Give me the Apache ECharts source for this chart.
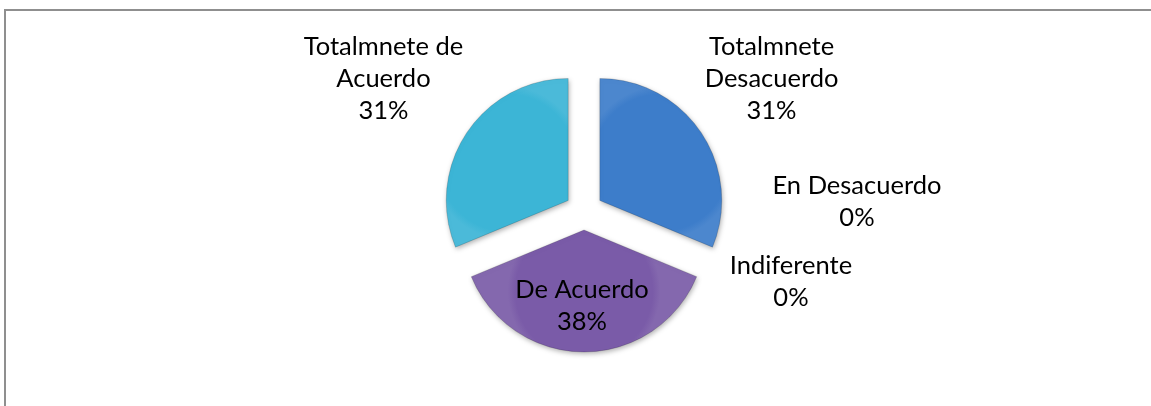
<!DOCTYPE html>
<html>
<head>
<meta charset="utf-8">
<script src="https://cdn.jsdelivr.net/npm/echarts@6/dist/echarts.min.js"></script>
<style>
  html, body { margin: 0; padding: 0; background: #fff; overflow: hidden; }
  #frame {
    position: absolute; left: 4px; top: 9px; width: 1160px; height: 420px;
    border: 2px solid #8f8f8f; box-sizing: border-box;
  }
  #chart { position: absolute; left: 0; top: 0; width: 1151px; height: 406px; }
</style>
</head>
<body>
<div id="frame"></div>
<div id="chart"></div>
<script>
var categories = ['Totalmnete\nDesacuerdo', 'En Desacuerdo', 'Indiferente', 'De Acuerdo', 'Totalmnete de\nAcuerdo'];
var counts = [5, 0, 0, 6, 5];
var sliceColors = ['#3d7dca', '#c0504d', '#9bbb59', '#7a5ba8', '#3cb5d6'];

// nudges from the default label spot, to get Excel's "best fit" placement
var labelShift = [[57, -48], [146, -60], [80, 20], [-2, 12], [-70, -48]];

function slice(i) {
  var inside = i === 3;
  return {
    name: categories[i],
    value: counts[i],
    selected: counts[i] > 0,
    itemStyle: {
      borderWidth: counts[i] > 0 ? 1 : 0,
      shadowBlur: counts[i] > 0 ? 5 : 0,
      color: {
        type: 'radial', x: 0.5, y: 0.5, r: 0.62,
        colorStops: [
          { offset: 0, color: sliceColors[i] },
          { offset: 0.9, color: sliceColors[i] },
          { offset: 1, color: echarts.color.lift(sliceColors[i], 0.08) }
        ]
      }
    },
    label: { position: inside ? 'inside' : 'outside' }
  };
}

var chart = echarts.init(document.getElementById('chart'));

var option = {
  animation: false,
  series: [{
    type: 'pie',
    center: [584, 211],
    radius: 122,
    startAngle: 90,
    clockwise: true,
    selectedMode: 'multiple',
    selectedOffset: 19,
    avoidLabelOverlap: false,
    percentPrecision: 0,
    emphasis: { disabled: true },
    itemStyle: {
      borderColor: 'rgba(0,0,0,0.15)',
      shadowColor: 'rgba(0,0,0,0.3)',
      shadowOffsetX: 1,
      shadowOffsetY: 2
    },
    label: {
      show: true,
      formatter: '{b}\n{d}%',
      fontFamily: 'Lato',
      fontSize: 25.5,
      lineHeight: 32,
      color: '#000',
      align: 'center'
    },
    labelLine: { show: false, length: 10, length2: 0 },
    labelLayout: function (params) {
      var s = labelShift[params.dataIndex];
      return { align: 'center', verticalAlign: 'middle', dx: s[0], dy: s[1] };
    },
    data: categories.map(function (c, i) { return slice(i); })
  }]
};

chart.setOption(option);
window.addEventListener('resize', function () {
  chart.resize();
});
</script>
</body>
</html>
